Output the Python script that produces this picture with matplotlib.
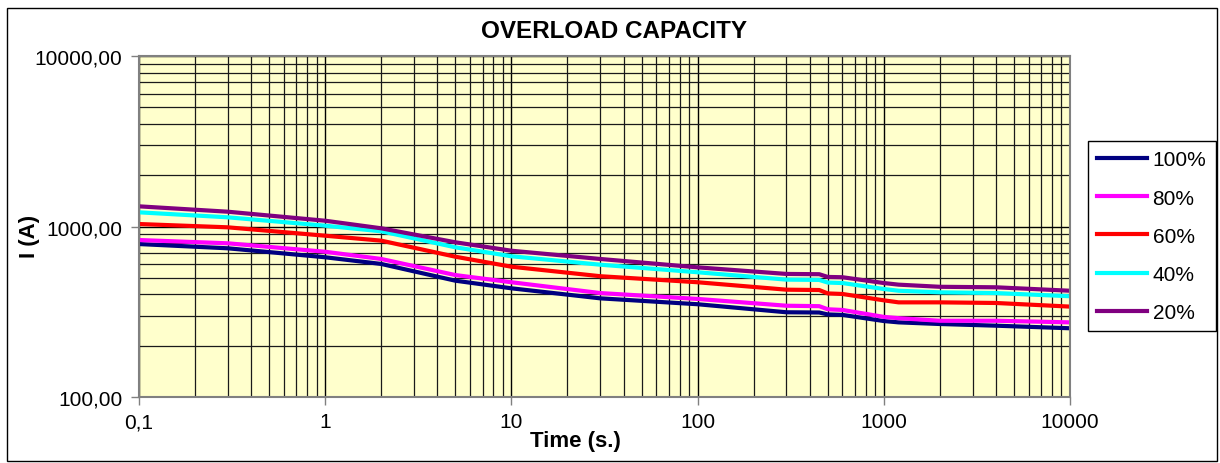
import numpy as np
import matplotlib
matplotlib.use('Agg')
import matplotlib.pyplot as plt
from matplotlib.ticker import FixedLocator, LogLocator, NullFormatter
from matplotlib.patches import Rectangle

plt.rcParams['font.family'] = ['Liberation Sans', 'DejaVu Sans']

# time axis (s.)
time_s = [0.1, 0.3, 1, 2, 5, 10, 30, 100, 300, 450, 500, 600, 1000, 1200, 2000, 4000, 10000]

# current (A) per load level
load_100 = [789, 745, 660, 603, 481, 434, 379, 350, 314, 313, 305, 303, 279, 274, 268, 262, 253]
load_80 = [833, 797, 711, 645, 519, 471, 407, 376, 343, 341, 327, 324, 295, 290, 280, 280, 274]
load_60 = [1034, 989, 883, 826, 665, 581, 511, 471, 426, 424, 405, 402, 369, 359, 359, 356, 339]
load_40 = [1211, 1132, 1011, 937, 755, 669, 597, 539, 488, 486, 469, 466, 430, 420, 411, 407, 390]
load_20 = [1313, 1221, 1081, 976, 808, 721, 645, 576, 527, 525, 506, 504, 466, 456, 443, 440, 420]

series = [
    ('100%', load_100, '#000080'),
    ('80%', load_80, '#FF00FF'),
    ('60%', load_60, '#FF0000'),
    ('40%', load_40, '#00FFFF'),
    ('20%', load_20, '#800080'),
]

x_ticks = [0.1, 1, 10, 100, 1000, 10000]
x_labels = ['0,1', '1', '10', '100', '1000', '10000']
y_ticks = [100, 1000, 10000]
y_labels = ['100,00', '1000,00', '10000,00']

fig = plt.figure(figsize=(12.2, 4.64), dpi=100)
ax = fig.add_axes([139 / 1220, 66 / 464, 931 / 1220, 341 / 464])
ax.set_facecolor('#FFFFCC')

for name, vals, col in series:
    ax.plot(time_s, vals, color=col, lw=3, label=name, solid_joinstyle='round')

ax.set_xscale('log')
ax.set_yscale('log')
ax.set_xlim(0.1, 10000)
ax.set_ylim(100, 10000)

ax.xaxis.set_major_locator(FixedLocator(x_ticks))
ax.set_xticklabels(x_labels)
ax.yaxis.set_major_locator(FixedLocator(y_ticks))
ax.set_yticklabels(y_labels)
ax.xaxis.set_minor_locator(LogLocator(base=10, subs=np.arange(2, 10)))
ax.yaxis.set_minor_locator(LogLocator(base=10, subs=np.arange(2, 10)))
ax.xaxis.set_minor_formatter(NullFormatter())
ax.yaxis.set_minor_formatter(NullFormatter())

ax.grid(True, which='major', color='black', lw=1.0)
ax.grid(True, which='minor', color='#1a1a1a', lw=0.9)
ax.set_axisbelow(True)

ax.tick_params(which='major', direction='out', length=6, width=1, color='#808080',
               labelsize=15)
ax.tick_params(axis='x', pad=5)
ax.tick_params(axis='y', pad=6)
ax.tick_params(which='minor', length=0)
for sp in ax.spines.values():
    sp.set_color('#808080')
    sp.set_linewidth(1.5)

fig.text(614 / 1220, 1 - 32 / 464, 'OVERLOAD CAPACITY', ha='center', va='center',
         fontsize=17.5, fontweight='bold')
fig.text(30 / 1220, 1 - 236 / 464, 'I (A)', ha='center', va='center', rotation=90,
         fontsize=16, fontweight='bold')
fig.text(575 / 1220, 1 - 442 / 464, 'Time (s.)', ha='center', va='center',
         fontsize=16, fontweight='bold')

leg = ax.legend(loc='upper left', bbox_to_anchor=(1088 / 1220, 1 - 142 / 464),
                bbox_transform=fig.transFigure, borderaxespad=0, fontsize=15,
                handlelength=2.4, handletextpad=0.25, labelspacing=0.92,
                fancybox=False, framealpha=1, edgecolor='black', borderpad=0.45)
leg.get_frame().set_linewidth(1)

fig.patches.append(Rectangle((7 / 1220, 2 / 464), 1210 / 1220, 453 / 464,
                             transform=fig.transFigure, fill=False,
                             edgecolor='black', lw=1))

fig.savefig('out.png', dpi=100)
